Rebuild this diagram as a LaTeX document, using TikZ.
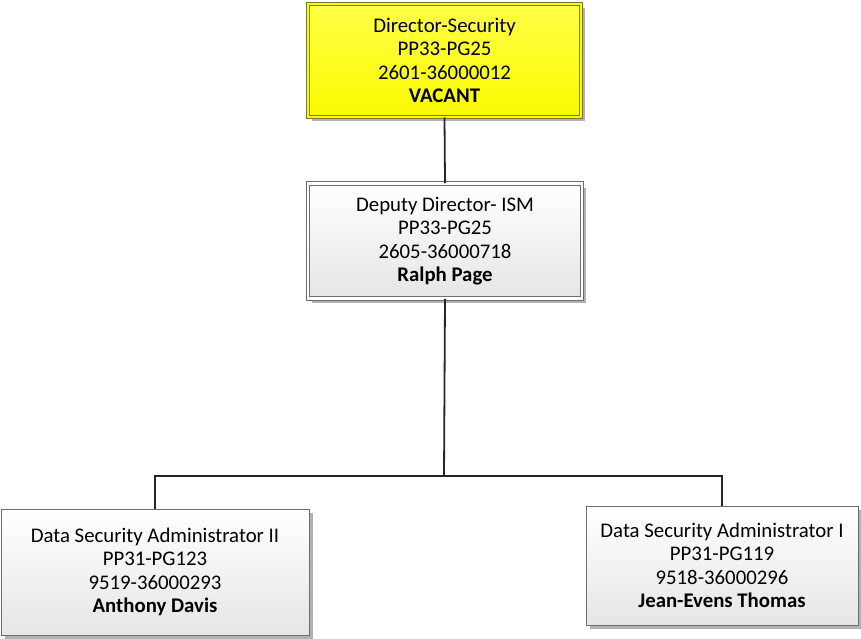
\documentclass[tikz,border=0pt]{standalone}
\usepackage{fontspec}
\setmainfont{Carlito}
\usetikzlibrary{shadows}
\definecolor{boxline}{RGB}{110,110,110}
\definecolor{ylw}{RGB}{250,250,0}
\definecolor{ylwtop}{RGB}{255,255,70}
\definecolor{ylwline}{RGB}{120,120,60}
\begin{document}
\begin{tikzpicture}[x=1pt,y=-1pt,
  posbox/.style={rectangle, draw=boxline, line width=0.8pt, align=center,
    font=\fontsize{20.8}{23.5}\selectfont, inner sep=0pt,
    general shadow={shadow xshift=4pt, shadow yshift=-4pt, fill=black!30},
    shading=axis, top color=white, bottom color=black!10},
  dblbox/.style={posbox, double=white, double distance=2.6pt},
  topbox/.style={dblbox, draw=ylwline, top color=ylwtop, bottom color=ylw, double=ylw},
  conn/.style={draw=black!85, line width=1.8pt}]
\useasboundingbox (0,0) rectangle (861,638);
\node[topbox, minimum width=273pt, minimum height=113pt] (dir) at (444.5,60.5)
  {Director-Security\\PP33-PG25\\2601-36000012\\\textbf{VACANT}};
\node[dblbox, minimum width=274pt, minimum height=115pt] (dep) at (445,241)
  {Deputy Director- ISM\\PP33-PG25\\2605-36000718\\\textbf{Ralph Page}};
\node[posbox, minimum width=308pt, minimum height=126pt] (dsa2) at (155,572)
  {Data Security Administrator II\\PP31-PG123\\9519-36000293\\\textbf{Anthony Davis}};
\node[posbox, minimum width=272pt, minimum height=119pt] (dsa1) at (722,565.5)
  {Data Security Administrator I\\PP31-PG119\\9518-36000296\\\textbf{Jean-Evens Thomas}};
\coordinate (bus) at (444,476);
\draw[conn] (dir.south) -- (dep.north);
\draw[conn] (dep.south) -- (bus);
\draw[conn] (dsa2.north) |- (bus) -| (dsa1.north);
\end{tikzpicture}
\end{document}
